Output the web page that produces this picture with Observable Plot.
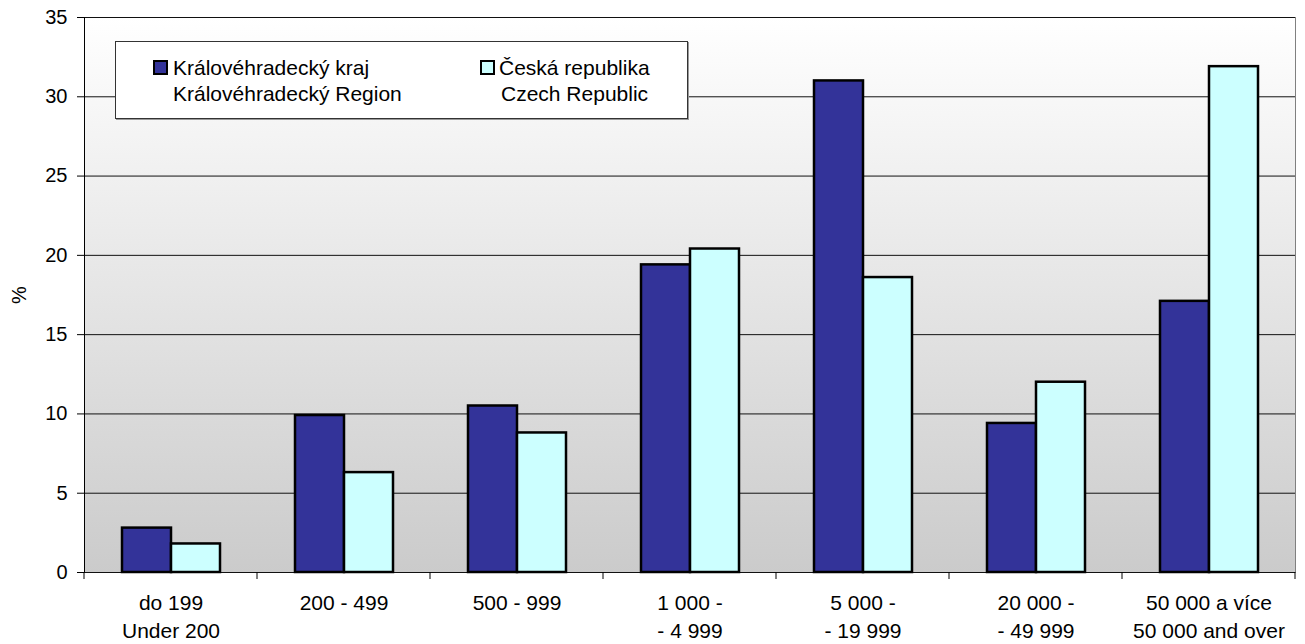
<!DOCTYPE html>
<html><head><meta charset="utf-8">
<script src="https://cdn.jsdelivr.net/npm/d3@7"></script>
<script src="https://cdn.jsdelivr.net/npm/@observablehq/plot@0.6"></script>
<style>
body{margin:0;background:#fff;font-family:"Liberation Sans",Arial,sans-serif;}
#wrap{position:relative;width:1305px;height:644px;}
#chart{position:absolute;left:0;top:0;}
.legend{position:absolute;left:115px;top:41px;width:573px;height:78px;border:1px solid #333;background:#fff;box-sizing:border-box;box-shadow:1px 1px 0 #999;font-size:21px;color:#000;}
.sw{position:absolute;width:15px;height:15px;border:2px solid #000;box-sizing:border-box;}
.tx{position:absolute;line-height:26px;white-space:nowrap;}
</style>
</head><body>
<div id="wrap"><div id="chart"></div>
<div class="legend" id="legend"></div>
</div>
<script>
const categories = ["do 199", "200 - 499", "500 - 999", "1 000 -", "5 000 -", "20 000 -", "50 000 a více"];
const labelLine2 = ["Under 200", "", "", "- 4 999", "- 19 999", "- 49 999", "50 000 and over"];
const seriesNames = ["Královéhradecký kraj", "Česká republika"];
const seriesNamesEn = ["Královéhradecký Region", "Czech Republic"];
const seriesColors = ["#333399", "#CCFFFF"];
const krajValues = [2.8, 9.9, 10.5, 19.4, 31.0, 9.4, 17.1];
const czValues = [1.8, 6.3, 8.8, 20.4, 18.6, 12.0, 31.9];
const yTicks = [0, 5, 10, 15, 20, 25, 30, 35];

const rows = categories.flatMap((c, i) => [
  {cat: c, series: seriesNames[0], value: krajValues[i]},
  {cat: c, series: seriesNames[1], value: czValues[i]}
]);

const fig = Plot.plot({
  width: 1305, height: 644,
  marginLeft: 81, marginRight: 8, marginTop: 17, marginBottom: 72,
  style: {fontFamily: "Liberation Sans, Arial, sans-serif", fontSize: "20px", color: "#000", background: "transparent"},
  fx: {domain: categories, padding: 0},
  x: {domain: seriesNames, axis: null, paddingInner: 0, paddingOuter: 0.737},
  y: {domain: [0, 35]},
  color: {domain: seriesNames, range: seriesColors},
  marks: [
    Plot.frame({facet: "super", fill: "url(#bgGrad)", stroke: null}),
    Plot.ruleY(yTicks, {stroke: "#111", strokeWidth: 1}),
    Plot.barY(rows, {fx: "cat", x: "series", y: "value", fill: "series", stroke: "#000", strokeWidth: 2.5}),
    Plot.frame({anchor: "left", facet: "super", stroke: "#000"}),
    Plot.frame({anchor: "right", facet: "super", stroke: "#808080"}),
    Plot.axisY({ticks: yTicks, tickSize: 7, tickPadding: 10, fontSize: 20, label: "%", labelAnchor: "center", labelOffset: 73, labelArrow: false}),
    Plot.axisFx({anchor: "bottom", tickSize: 0, tickPadding: 18, fontSize: 21, lineHeight: 1.33, label: null,
      tickFormat: d => { const i = categories.indexOf(d); return labelLine2[i] ? d + "\n" + labelLine2[i] : d; }})
  ]
});

const svg = d3.select(fig);
const defs = svg.insert("defs", ":first-child");
const g = defs.append("linearGradient").attr("id", "bgGrad").attr("x1", 0).attr("y1", 0).attr("x2", 0).attr("y2", 1);
g.append("stop").attr("offset", "0%").attr("stop-color", "#ffffff");
g.append("stop").attr("offset", "100%").attr("stop-color", "#cbcbcb");

// category boundary ticks on the x axis, from the fx band scale
const fx = fig.scale("fx");
const y0 = fig.scale("y").apply(0);
const bounds = categories.map(c => fx.apply(c)).concat([fx.apply(categories[categories.length - 1]) + fx.bandwidth]);
svg.append("g").attr("stroke", "#000").selectAll("line").data(bounds).join("line")
  .attr("x1", d => d).attr("x2", d => d).attr("y1", y0).attr("y2", y0 + 7);

document.getElementById("chart").appendChild(fig);

// legend
const lg = document.getElementById("legend");
const pos = [{sw: 37, tx: 57}, {sw: 364, tx: 383}];
seriesNames.forEach((s, i) => {
  const sw = document.createElement("div"); sw.className = "sw";
  sw.style.left = pos[i].sw + "px"; sw.style.top = "18px"; sw.style.background = seriesColors[i];
  lg.appendChild(sw);
  const t1 = document.createElement("div"); t1.className = "tx"; t1.textContent = s;
  t1.style.left = pos[i].tx + "px"; t1.style.top = "13px"; lg.appendChild(t1);
  const t2 = document.createElement("div"); t2.className = "tx"; t2.textContent = seriesNamesEn[i];
  t2.style.left = (pos[i].tx + (i === 1 ? 2 : 0)) + "px"; t2.style.top = "39px"; lg.appendChild(t2);
});
</script>
</body></html>
